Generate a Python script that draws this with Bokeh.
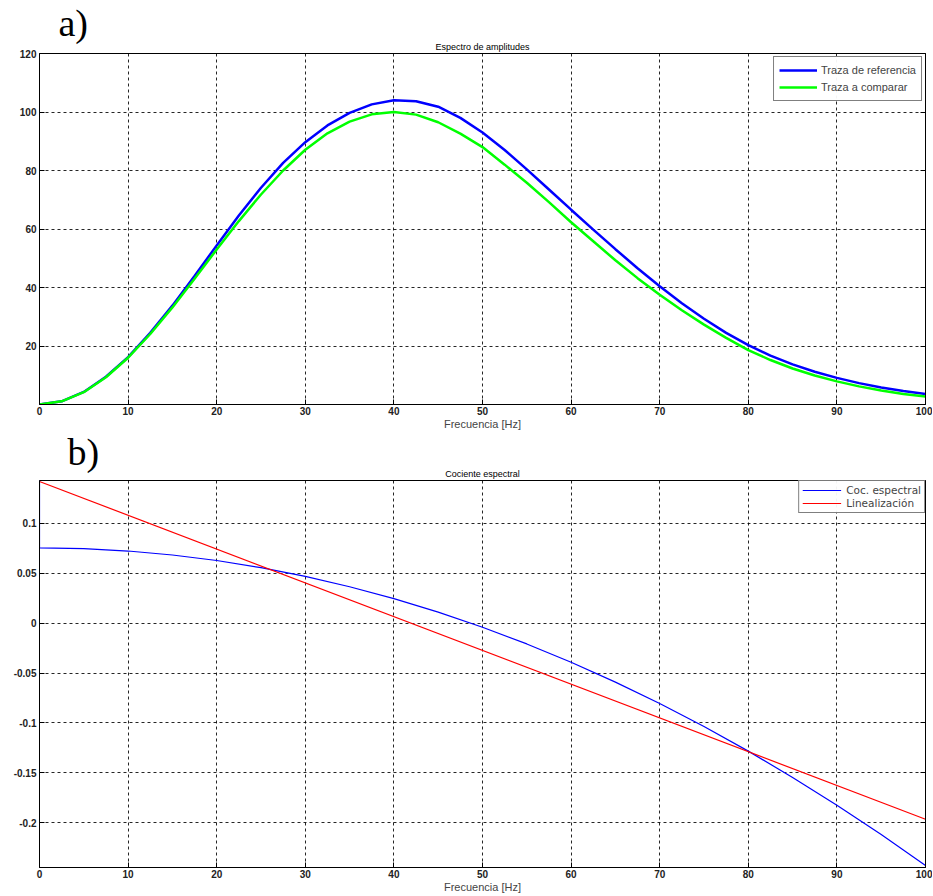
from bokeh.plotting import figure
from bokeh.models import Range1d, FixedTicker, Legend, LegendItem, LinearAxis, Title
from bokeh.layouts import column
from bokeh.embed import file_html
from bokeh.resources import INLINE

# ---------------- data ----------------
freq = [0, 2.5, 5, 7.5, 10, 12.5, 15, 17.5, 20, 22.5, 25, 27.5, 30, 32.5, 35, 37.5,
        40, 42.5, 45, 47.5, 50, 52.5, 55, 57.5, 60, 62.5, 65, 67.5, 70, 72.5, 75,
        77.5, 80, 82.5, 85, 87.5, 90, 92.5, 95, 97.5, 100]
amp_ref = [0.0, 1.1, 4.3, 9.5, 16.2, 24.5, 33.8, 43.9, 54.4, 64.6, 74.1, 82.6, 89.7,
           95.4, 99.7, 102.6, 104.0, 103.7, 101.8, 98.0, 93.0, 87.0, 80.4, 73.5, 66.6,
           59.8, 53.1, 46.6, 40.4, 34.6, 29.3, 24.5, 20.3, 16.7, 13.7, 11.2, 9.1, 7.3,
           5.8, 4.6, 3.6]
amp_cmp = [0.0, 1.1, 4.2, 9.3, 16.0, 24.1, 33.2, 43.0, 53.0, 62.7, 71.8, 80.0, 87.1,
           92.7, 96.7, 99.2, 100.0, 99.1, 96.5, 92.6, 88.0, 82.0, 75.8, 69.2, 62.3,
           55.8, 49.3, 43.2, 37.5, 32.2, 27.3, 22.8, 18.6, 15.2, 12.3, 9.9, 7.9, 6.2,
           4.8, 3.6, 2.7]

coc_freq = [0, 0, 5, 10, 15, 20, 25, 30, 35, 40, 45, 50, 55, 60, 65, 70, 75, 80, 85,
            90, 95, 100]
coc_val = [0.1427, 0.0753, 0.0745, 0.0721, 0.0681, 0.0626, 0.0554, 0.0467, 0.0363,
           0.0244, 0.0109, -0.0042, -0.0209, -0.0392, -0.0591, -0.0805, -0.1036,
           -0.1282, -0.1545, -0.1823, -0.2117, -0.2427]
lin_freq = [0, 100]
lin_val = [0.1417, -0.1964]

x_ticks = [0, 10, 20, 30, 40, 50, 60, 70, 80, 90, 100]
ya_ticks = [20, 40, 60, 80, 100, 120]
yb_ticks = [-0.2, -0.15, -0.1, -0.05, 0, 0.05, 0.1]
yb_labels = {-0.2: "-0.2", -0.15: "-0.15", -0.1: "-0.1", -0.05: "-0.05", 0: "0",
             0.05: "0.05", 0.1: "0.1"}

SANS = "Liberation Sans"


def style(p, yticks, main_title, tag, tag_offset, tag_standoff, ylabels=None):
    p.outline_line_color = "black"
    p.outline_line_width = 1
    p.xaxis.ticker = FixedTicker(ticks=x_ticks)
    p.yaxis.ticker = FixedTicker(ticks=yticks)
    if ylabels:
        p.yaxis.major_label_overrides = ylabels
    for ax in (p.xaxis[0], p.yaxis[0]):
        ax.major_tick_in = 5
        ax.major_tick_out = 0
        ax.minor_tick_in = 0
        ax.minor_tick_out = 0
        ax.axis_line_color = "black"
        ax.major_tick_line_color = "black"
        ax.major_label_text_font = SANS
        ax.major_label_text_font_size = "10px"
        ax.major_label_text_font_style = "bold"
        ax.major_label_text_color = "#222222"
        ax.major_label_standoff = 3
    p.xaxis.major_label_standoff = 2
    p.xaxis.axis_label = "Frecuencia [Hz]"
    p.xaxis.axis_label_text_font = SANS
    p.xaxis.axis_label_text_font_size = "11px"
    p.xaxis.axis_label_text_font_style = "normal"
    p.xaxis.axis_label_standoff = 0
    p.xgrid.ticker = FixedTicker(ticks=x_ticks)
    p.ygrid.ticker = FixedTicker(ticks=yticks)
    for g in (p.xgrid[0], p.ygrid[0]):
        g.grid_line_color = "black"
        g.grid_line_dash = "3 3"
        g.grid_line_width = 1
        g.grid_line_alpha = 0.85
    # outer title: panel tag ("a)" / "b)")
    p.title.text = tag
    p.title.align = "left"
    p.title.offset = tag_offset
    p.title.standoff = tag_standoff
    p.title.text_font = "Liberation Serif"
    p.title.text_font_size = "38px"
    p.title.text_font_style = "normal"
    p.title.text_color = "black"
    # inner title, next to the frame
    p.add_layout(Title(text=main_title, align="center", standoff=4, text_font=SANS,
                       text_font_size="9px", text_font_style="normal",
                       text_color="black"), "above")
    # inner tick marks on the right side (no labels)
    r_ax = LinearAxis(ticker=FixedTicker(ticks=yticks), major_tick_in=5, major_tick_out=0,
                      minor_tick_in=0, minor_tick_out=0,
                      major_label_overrides={t: "" for t in yticks},
                      major_label_standoff=0, axis_line_color="black")
    p.add_layout(r_ax, "right")


# ---------------- panel a ----------------
pa = figure(width=932, height=432, output_backend="svg", toolbar_location=None,
            x_range=Range1d(0, 100), y_range=Range1d(0, 120),
            min_border_left=39, min_border_right=7, min_border_top=53, min_border_bottom=24)
style(pa, ya_ticks, "Espectro de amplitudes", "a)", 19, -12)
r_ref = pa.line(freq, amp_ref, line_color="#0000FF", line_width=2.5)
r_cmp = pa.line(freq, amp_cmp, line_color="#00FF00", line_width=2.5)
leg_a = Legend(items=[LegendItem(label="Traza de referencia", renderers=[r_ref]),
                      LegendItem(label="Traza a comparar", renderers=[r_cmp])],
               location="top_right")
leg_a.label_text_font = SANS
leg_a.label_text_font_size = "11px"
leg_a.glyph_width = 38
leg_a.glyph_height = 16
leg_a.label_height = 16
leg_a.label_standoff = 4
leg_a.spacing = 1
leg_a.padding = 5
leg_a.margin = 3
leg_a.border_line_color = "black"
leg_a.border_line_width = 1
pa.add_layout(leg_a)

# ---------------- panel b ----------------
pb = figure(width=932, height=463, output_backend="svg", toolbar_location=None,
            x_range=Range1d(0, 100), y_range=Range1d(-0.2447, 0.1427),
            min_border_left=37, min_border_right=7, min_border_top=48, min_border_bottom=26)
style(pb, yb_ticks, "Cociente espectral", "b)", 28, -17, yb_labels)
r_coc = pb.line(coc_freq, coc_val, line_color="#0000FF", line_width=1.2)
r_lin = pb.line(lin_freq, lin_val, line_color="#FF0000", line_width=1.2)
leg_b = Legend(items=[LegendItem(label="Coc. espectral", renderers=[r_coc]),
                      LegendItem(label="Linealización", renderers=[r_lin])],
               location="top_right")
leg_b.label_text_font = "DejaVu Sans"
leg_b.label_text_font_size = "10.5px"
leg_b.glyph_width = 39
leg_b.glyph_height = 12
leg_b.label_height = 12
leg_b.label_standoff = 5
leg_b.spacing = 1
leg_b.padding = 3
leg_b.margin = 0
leg_b.border_line_color = "black"
leg_b.border_line_width = 1
pb.add_layout(leg_b)

layout = column(pa, pb, spacing=0)
open("out.html", "w").write(file_html(layout, INLINE))
